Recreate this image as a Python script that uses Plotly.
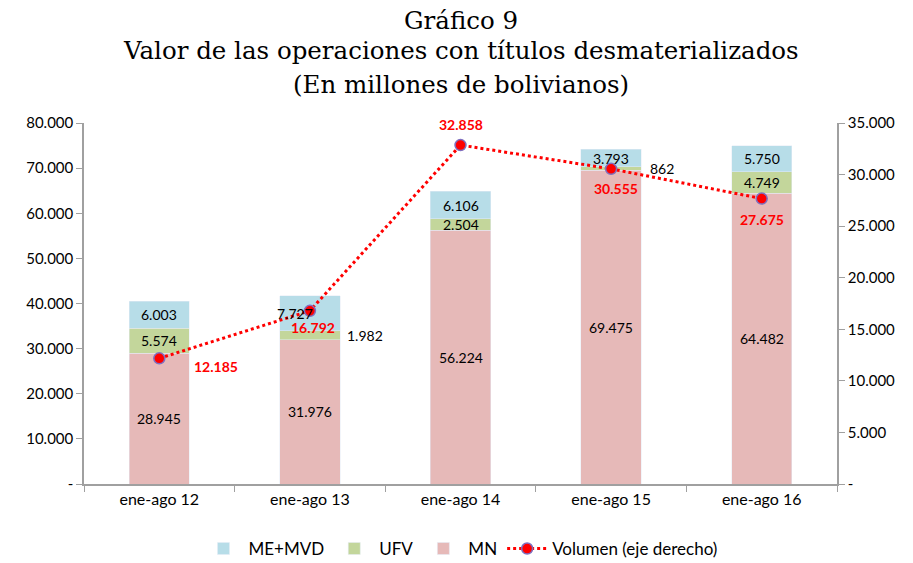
import plotly.graph_objects as go

categories = ["ene-ago 12", "ene-ago 13", "ene-ago 14", "ene-ago 15", "ene-ago 16"]
mn = [28945, 31976, 56224, 69475, 64482]
ufv = [5574, 1982, 2504, 862, 4749]
me = [6003, 7727, 6106, 3793, 5750]
volumen = [12185, 16792, 32858, 30555, 27675]

left_ticks = [0, 10000, 20000, 30000, 40000, 50000, 60000, 70000, 80000]
right_ticks = [0, 5000, 10000, 15000, 20000, 25000, 30000, 35000]

title_lines = ["Gráfico 9",
               "Valor de las operaciones con títulos desmaterializados",
               "(En millones de bolivianos)"]


def fmt(v):
    return "-" if v == 0 else f"{v:,}".replace(",", ".")


C_ME = "#B7DDE8"
C_UFV = "#C3D69B"
C_MN = "#E6B9B8"
FONT = "Lato"

fig = go.Figure()
fig.add_bar(x=categories, y=mn, name="MN", marker_color=C_MN, width=0.4, hoverinfo="skip", legendrank=3)
fig.add_bar(x=categories, y=ufv, name="UFV", marker_color=C_UFV, width=0.4, hoverinfo="skip", legendrank=2)
fig.add_bar(x=categories, y=me, name="ME+MVD", marker_color=C_ME, width=0.4, hoverinfo="skip", legendrank=1)
fig.add_scatter(x=categories, y=volumen, name="Volumen (eje derecho)", yaxis="y2",
                mode="lines+markers", legendrank=4,
                line=dict(color="#FF0000", dash="dot", width=3),
                marker=dict(color="#FF0000", size=11, line=dict(color="#7F6FBF", width=1.5)))

ann = []
lab = dict(size=14, color="#000000", family=FONT)
for i, c in enumerate(categories):
    ann.append(dict(x=c, y=mn[i] / 2, text=fmt(mn[i]), showarrow=False, font=lab))
    ufv_dx = {1: 55, 3: 51}.get(i, 0)
    me_dx = {1: -15}.get(i, 0)
    ann.append(dict(x=c, y=mn[i] + ufv[i] / 2, text=fmt(ufv[i]), showarrow=False, font=lab, xshift=ufv_dx))
    ann.append(dict(x=c, y=mn[i] + ufv[i] + me[i] / 2, text=fmt(me[i]), showarrow=False, font=lab, xshift=me_dx))

red = dict(size=14, color="#FF0000", family=FONT, weight="bold")
offs = [(57, -8), (3, -17), (0, 21), (5, -20), (0, -21)]
for i, c in enumerate(categories):
    dx, dy = offs[i]
    ann.append(dict(x=c, y=volumen[i], yref="y2", text=fmt(volumen[i]), showarrow=False,
                    font=red, xshift=dx, yshift=dy))

for t, yy in zip(title_lines, [1.285, 1.202, 1.108]):
    ann.append(dict(x=0.5, xref="paper", y=yy, yref="paper", text=t, showarrow=False,
                    xanchor="center", yanchor="middle",
                    font=dict(family="DejaVu Serif", size=24.5, color="#000000")))

axis_common = dict(showline=True, linecolor="#A0A0A0", linewidth=1.5, ticks="outside", ticklen=6,
                   tickcolor="#A0A0A0", showgrid=False, zeroline=False, automargin=False,
                   tickfont=dict(size=15, family=FONT))

# page body has an 8px margin, so the figure is sized/offset to compensate
fig.update_layout(
    width=905, height=555,
    barmode="stack",
    plot_bgcolor="white", paper_bgcolor="white",
    margin=dict(l=76, r=76, t=115, b=79, autoexpand=False),
    font=dict(family=FONT, size=14, color="#000000"),
    xaxis=dict(showline=True, linecolor="#A0A0A0", linewidth=1.5, ticks="outside", tickson="boundaries",
               ticklen=6, tickcolor="#A0A0A0", automargin=False, tickfont=dict(size=16, family=FONT)),
    yaxis=dict(range=[0, 80000], tickvals=left_ticks, ticktext=[fmt(v) for v in left_ticks], **axis_common),
    yaxis2=dict(range=[0, 35000], tickvals=right_ticks, ticktext=[fmt(v) for v in right_ticks],
                overlaying="y", side="right", **axis_common),
    legend=dict(orientation="h", x=0.5, xanchor="center", y=-0.18, yanchor="middle",
                traceorder="normal", itemwidth=40, font=dict(size=17, family=FONT)),
    annotations=ann,
)
fig.write_html("out.html")
